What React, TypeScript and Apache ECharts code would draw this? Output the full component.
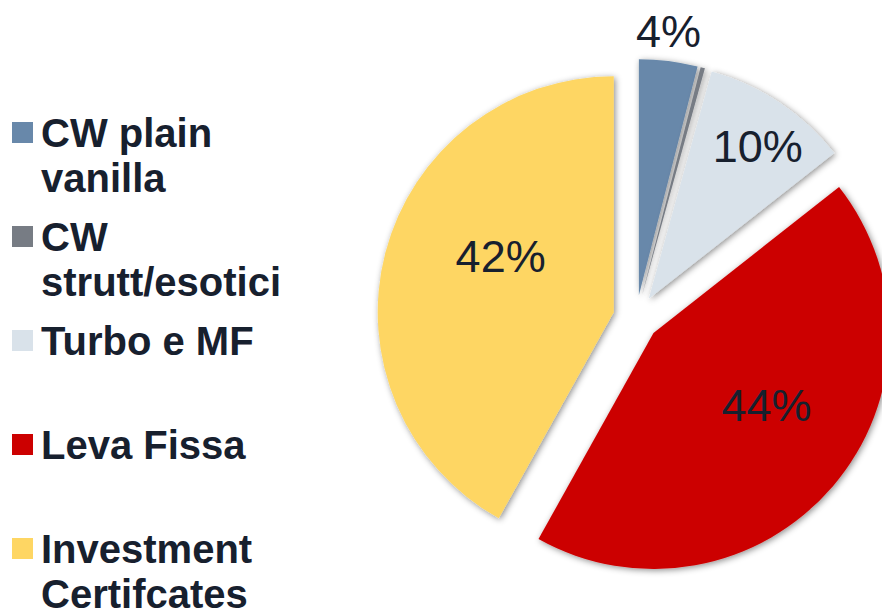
import React, { useEffect, useRef } from "react";
import * as echarts from "echarts";

const categories = ["CW plain vanilla", "CW strutt/esotici", "Turbo e MF", "Leva Fissa", "Investment Certifcates"];
const legendLabels = ["CW plain\nvanilla", "CW\nstrutt/esotici", "Turbo e MF", "Leva Fissa", "Investment\nCertifcates"];
const shares = [4.0, 0.3, 10.1, 43.7, 41.9];
const colors = ["#6888AA", "#777C84", "#D9E2EA", "#CC0000", "#FED663"];
const labelPositions = ["outside", "inside", "inside", "inside", "inside"];
const showLabel = [true, false, true, true, true];
const labelDx = [-5, 0, 42, 21, 4];
const labelDy = [-30, 0, -52, -6, -25];

export default function App() {
  const ref = useRef<HTMLDivElement>(null);
  useEffect(() => {
    const chart = echarts.init(ref.current!, null, { renderer: "svg" });
    const fontFamily = "Arial, 'Liberation Sans', sans-serif";
    const textColor = "#17202E";
    const lineH = 45;
    const shadow = {
      shadowBlur: 6,
      shadowColor: "rgba(0,0,0,0.45)",
      shadowOffsetX: 1.5,
      shadowOffsetY: 1.5,
    };
    const option: any = {
      animation: false,
      backgroundColor: "#ffffff",
      legend: categories.map((name, i) => {
        const lines = legendLabels[i].split("\n").length;
        // two-line entries get a leading blank line so the first line sits level with the swatch
        const text = lines > 1 ? "\n" + legendLabels[i] : legendLabels[i];
        const total = lines > 1 ? lines + 1 : lines;
        const boxH = total * lineH;
        return {
          data: [{ name, icon: "rect" }],
          orient: "vertical",
          left: 12,
          top: 122 + i * 104 - (boxH / 2 - 10.5),
          padding: 0,
          itemWidth: 21,
          itemHeight: 21,
          selectedMode: false,
          formatter: () => text,
          textStyle: {
            fontFamily,
            fontWeight: "bold",
            fontSize: 40,
            lineHeight: lineH,
            color: textColor,
            padding: [0, 0, 0, 3],
          },
        };
      }),
      series: [
        {
          type: "pie",
          center: [636, 318],
          radius: 236,
          startAngle: 90,
          clockwise: true,
          selectedMode: "multiple",
          selectedOffset: 23,
          avoidLabelOverlap: false,
          emphasis: { disabled: true },
          labelLine: { show: false, length: 0, length2: 0 },
          label: {
            fontFamily,
            fontSize: 45,
            color: textColor,
            formatter: (p: any) => Math.round(p.percent) + "%",
          },
          labelLayout: (p: any) => ({
            dx: labelDx[p.dataIndex],
            dy: labelDy[p.dataIndex],
            align: "center",
          }),
          data: categories.map((name, i) => ({
            name,
            value: shares[i],
            selected: true,
            itemStyle: { color: colors[i], ...shadow },
            select: {
              itemStyle: { color: colors[i], borderWidth: 0, ...shadow },
              label: { show: showLabel[i], color: textColor },
            },
            label: { show: showLabel[i], position: labelPositions[i] },
          })),
        },
      ],
    };
    chart.setOption(option);
    return () => chart.dispose();
  }, []);
  return (
    <div
      ref={ref}
      style={{ position: "fixed", left: 0, top: 0, width: 882, height: 611 }}
    />
  );
}
